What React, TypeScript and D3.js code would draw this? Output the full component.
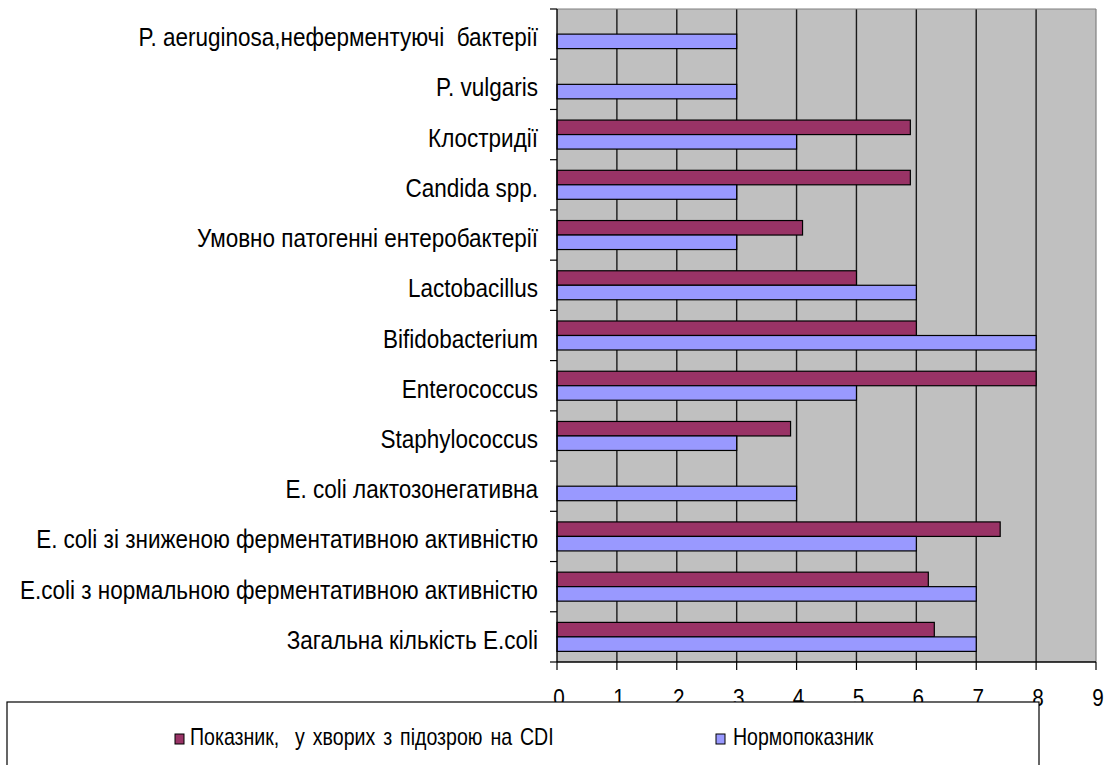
import React from "react";
import * as d3 from "d3";

const categories = [
  "P. aeruginosa,неферментуючі  бактерії",
  "P. vulgaris",
  "Клостридії",
  "Candida spp.",
  "Умовно патогенні ентеробактерії",
  "Lactobacillus",
  "Bifidobacterium",
  "Enterococcus",
  "Staphylococcus",
  "E. coli лактозонегативна",
  "E. coli зі зниженою ферментативною активністю",
  "E.coli з нормальною ферментативною активністю",
  "Загальна кількість E.coli",
];
const patientValues: (number | null)[] = [null, null, 5.9, 5.9, 4.1, 5, 6, 8, 3.9, null, 7.4, 6.2, 6.3];
const normValues: (number | null)[] = [3, 3, 4, 3, 3, 6, 8, 5, 3, 4, 6, 7, 7];
const xTicks = [0, 1, 2, 3, 4, 5, 6, 7, 8, 9];
const seriesNames = ["Показник,  у хворих з підозрою на CDI", "Нормопоказник"];
const seriesColors = ["#993366", "#9999FF"];

const W = 1109;
const H = 765;
const FONT = "'Liberation Sans', Arial, sans-serif";

export default function App() {
  const x = d3.scaleLinear().domain([0, 9]).range([557, 1096]);
  const y = d3.scaleBand<string>().domain(categories).range([9, 662]).padding(0);
  const barH = 14.5;
  const bw = y.bandwidth();
  const boundaries = d3.range(categories.length + 1).map((i) => 9 + i * bw);

  return (
    <div style={{ position: "absolute", left: 0, top: 0 }}>
      <svg width={W} height={H} style={{ display: "block", background: "#fff" }} fontFamily={FONT}>
        <rect x={x(0)} y={9} width={x(9) - x(0)} height={662 - 9} fill="#C0C0C0" />
        {xTicks.slice(1, -1).map((t) => (
          <line key={"g" + t} x1={x(t)} x2={x(t)} y1={9} y2={662} stroke="#1a1a1a" strokeWidth={1.4} />
        ))}
        <line x1={x(0)} x2={x(9)} y1={9} y2={9} stroke="#808080" strokeWidth={1.2} />
        <line x1={x(9)} x2={x(9)} y1={9} y2={662} stroke="#808080" strokeWidth={1.2} />
        {categories.map((c, i) => {
          const cy = (y(c) as number) + bw / 2;
          const pv = patientValues[i];
          const nv = normValues[i];
          return (
            <g key={"b" + i}>
              {pv != null && (
                <rect x={x(0)} y={cy - barH} width={x(pv) - x(0)} height={barH} fill={seriesColors[0]} stroke="#000" strokeWidth={1.2} />
              )}
              {nv != null && (
                <rect x={x(0)} y={cy} width={x(nv) - x(0)} height={barH} fill={seriesColors[1]} stroke="#000" strokeWidth={1.2} />
              )}
            </g>
          );
        })}
        <line x1={x(0)} x2={x(0)} y1={9} y2={662} stroke="#000" strokeWidth={1.4} />
        {boundaries.map((b, i) => (
          <line key={"yt" + i} x1={550} x2={x(0)} y1={b} y2={b} stroke="#000" strokeWidth={1.2} />
        ))}
        {categories.map((c) => (
          <text
            key={"l" + c}
            transform={`translate(538,${(y(c) as number) + bw / 2 + 12}) scale(0.9,1)`}
            textAnchor="end"
            fontSize={25}
            fill="#000"
            style={{ whiteSpace: "pre" }}
          >
            {c}
          </text>
        ))}
        <line x1={x(0)} x2={x(9)} y1={662} y2={662} stroke="#000" strokeWidth={1.4} />
        {xTicks.map((t) => (
          <line key={"xt" + t} x1={x(t)} x2={x(t)} y1={662} y2={670} stroke="#000" strokeWidth={1.2} />
        ))}
        {xTicks.map((t) => (
          <text key={"xl" + t} transform={`translate(${x(t) + 2},706) scale(0.9,1)`} textAnchor="middle" fontSize={23} fill="#000">
            {t}
          </text>
        ))}
        <rect x={7} y={702} width={1032} height={120} fill="#fff" stroke="#000" strokeWidth={1.2} />
        <rect x={175} y={734} width={9} height={10} fill={seriesColors[0]} stroke="#000" strokeWidth={1} />
        <text transform="translate(190,745) scale(0.85,1)" fontSize={23} wordSpacing={3} fill="#000" style={{ whiteSpace: "pre" }}>
          {seriesNames[0]}
        </text>
        <rect x={716} y={734} width={9} height={10} fill={seriesColors[1]} stroke="#000" strokeWidth={1} />
        <text transform="translate(733,745) scale(0.85,1)" fontSize={23} fill="#000" style={{ whiteSpace: "pre" }}>
          {seriesNames[1]}
        </text>
      </svg>
    </div>
  );
}
